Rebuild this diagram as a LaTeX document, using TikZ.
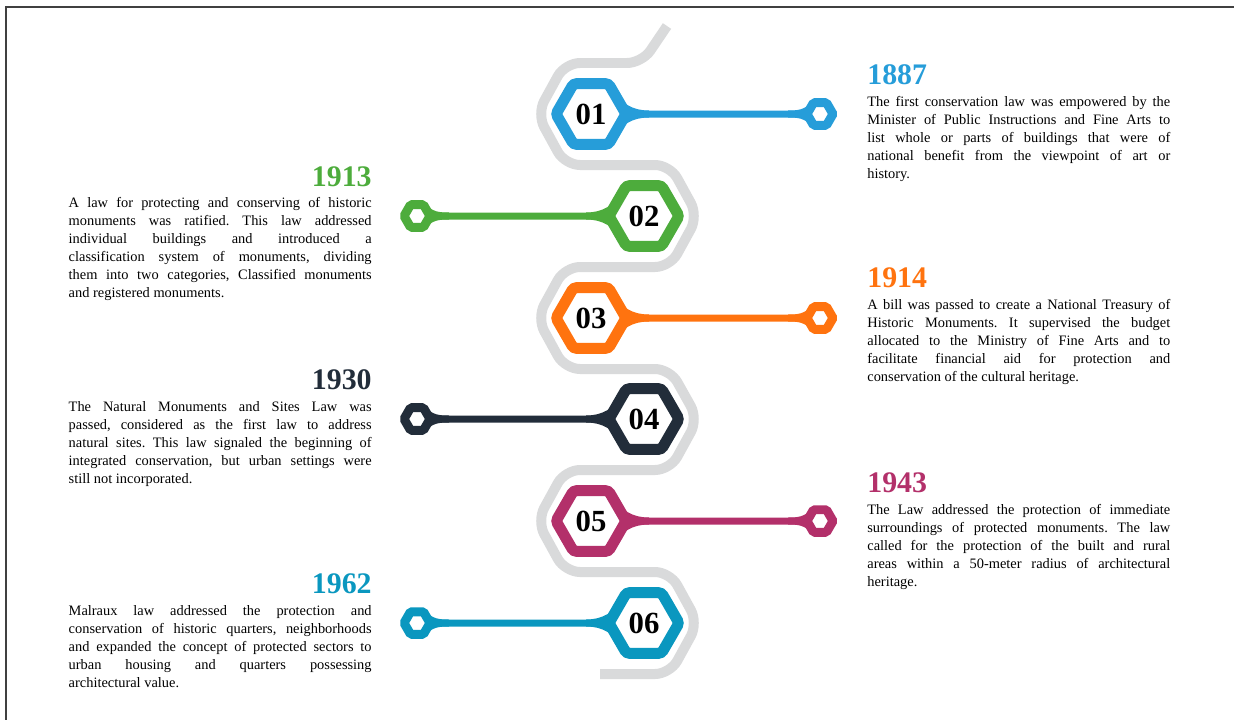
\documentclass[tikz,border=0pt]{standalone}
\usepackage{fontspec}
\setmainfont{Liberation Serif}
\usetikzlibrary{shapes.geometric, positioning, backgrounds}

\definecolor{lawblue}{HTML}{269DD9}
\definecolor{lawgreen}{HTML}{4DAC3C}
\definecolor{laworange}{HTML}{FF730F}
\definecolor{lawnavy}{HTML}{222D3A}
\definecolor{lawmagenta}{HTML}{B3306A}
\definecolor{lawteal}{HTML}{0A97BF}
\definecolor{trackgray}{HTML}{D9DADB}

\begin{document}
\frenchspacing
\begin{tikzpicture}[
        x=0.02cm, y=-0.02cm,
        % Styles
        hexnode/.style={
            regular polygon,
            regular polygon sides=6,
            minimum size=1.4cm,
            line width=0.22cm,
            draw=#1,
            fill=white,
            rounded corners=0.06cm,
            inner sep=0pt,
            font=\fontsize{17.5}{17.5}\selectfont\bfseries
          },
        tipnode/.style={
            regular polygon,
            regular polygon sides=6,
            minimum size=0.52cm,
            line width=0.18cm,
            draw=#1,
            fill=white,
            rounded corners=0.03cm,
            inner sep=0pt
          },
        stem/.style={line width=0.14cm},
        track/.style={
            draw=trackgray,
            line width=0.2cm,
            rounded corners=0.3cm
          },
        year/.style={
            font=\fontsize{17}{17}\selectfont\bfseries,
            inner sep=0pt,
            text=#1
          },
        desc/.style={
            text width=6.06cm,
            align=justify,
            inner sep=0pt,
            font=\fontsize{8.2}{10.2}\selectfont
          },
        frame/.style={draw=black!75, line width=0.04cm},
        bigflare/.pic={
            \fill (20,-26) .. controls (30,-10) and (42,-3.5) .. (58,-3.5)
              -- (58,3.5) .. controls (42,3.5) and (30,10) .. (20,26) -- cycle;
          },
        tipflare/.pic={
            \fill (-8,-12) .. controls (-16,-4) and (-22,-3.5) .. (-32,-3.5)
              -- (-32,3.5) .. controls (-22,3.5) and (-16,4) .. (-8,12) -- cycle;
          }
      ]
      \useasboundingbox (0,0) rectangle (1234,720);

      % Frame
      \draw[frame] (1234,7) -- (6,7) -- (6,720);

      % Grey track
      \draw[track] (667,26) -- (642,63) -- (565,63) -- (537,114) -- (565,165)
        -- (670,165) -- (698,216) -- (670,267) -- (565,267) -- (537,318)
        -- (565,369) -- (670,369) -- (698,419) -- (670,470) -- (565,470)
        -- (537,521) -- (565,572) -- (670,572) -- (698,623) -- (670,674)
        -- (600,674);

      % Hexagons
      \node[hexnode=lawblue] (h1) at (591,114) {01};
      \node[hexnode=lawgreen] (h2) at (644,216) {02};
      \node[hexnode=laworange] (h3) at (591,318) {03};
      \node[hexnode=lawnavy] (h4) at (644,419) {04};
      \node[hexnode=lawmagenta] (h5) at (591,521) {05};
      \node[hexnode=lawteal] (h6) at (644,623) {06};

      % Tips
      \node[tipnode=lawblue] (t1) at (820,114) {};
      \node[tipnode=lawgreen] (t2) at (417,216) {};
      \node[tipnode=laworange] (t3) at (820,318) {};
      \node[tipnode=lawnavy] (t4) at (417,419) {};
      \node[tipnode=lawmagenta] (t5) at (820,521) {};
      \node[tipnode=lawteal] (t6) at (417,623) {};

      % Stems
      \begin{scope}[on background layer]
        \draw[stem, lawblue] (h1) -- (t1);
        \pic[lawblue] at (h1.center) {bigflare};
        \pic[lawblue] at (t1.center) {tipflare};
        \draw[stem, lawgreen] (h2) -- (t2);
        \pic[lawgreen, xscale=-1] at (h2.center) {bigflare};
        \pic[lawgreen, xscale=-1] at (t2.center) {tipflare};
        \draw[stem, laworange] (h3) -- (t3);
        \pic[laworange] at (h3.center) {bigflare};
        \pic[laworange] at (t3.center) {tipflare};
        \draw[stem, lawnavy] (h4) -- (t4);
        \pic[lawnavy, xscale=-1] at (h4.center) {bigflare};
        \pic[lawnavy, xscale=-1] at (t4.center) {tipflare};
        \draw[stem, lawmagenta] (h5) -- (t5);
        \pic[lawmagenta] at (h5.center) {bigflare};
        \pic[lawmagenta] at (t5.center) {tipflare};
        \draw[stem, lawteal] (h6) -- (t6);
        \pic[lawteal, xscale=-1] at (h6.center) {bigflare};
        \pic[lawteal, xscale=-1] at (t6.center) {tipflare};
      \end{scope}

      % Right column
      \node[year=lawblue, anchor=base west] (y1887) at (867,84) {1887};
      \node[desc, below=0.24cm of y1887.base west, anchor=north west] (d1887) {The first conservation law was empowered by the\linebreak Minister of Public Instructions and Fine Arts to\linebreak list whole or parts of buildings that were of\linebreak national benefit from the viewpoint of art or\linebreak history.};

      \node[year=laworange, anchor=base west] (y1914) at (867,287) {1914};
      \node[desc, below=0.24cm of y1914.base west, anchor=north west] (d1914) {A bill was passed to create a National Treasury of\linebreak Historic Monuments. It supervised the budget\linebreak allocated to the Ministry of Fine Arts and to\linebreak facilitate financial aid for protection and\linebreak conservation of the cultural heritage.};

      \node[year=lawmagenta, anchor=base west] (y1943) at (867,492) {1943};
      \node[desc, below=0.24cm of y1943.base west, anchor=north west] (d1943) {The Law addressed the protection of immediate\linebreak surroundings of protected monuments. The law\linebreak called for the protection of the built and rural\linebreak areas within a 50-meter radius of architectural\linebreak heritage.};

      % Left column
      \node[year=lawgreen, anchor=base east] (y1913) at (372,186) {1913};
      \node[desc, below=0.22cm of y1913.base east, anchor=north east] (d1913) {A law for protecting and conserving of historic\linebreak monuments was ratified. This law addressed\linebreak individual buildings and introduced a\linebreak classification system of monuments, dividing\linebreak them into two categories, Classified monuments\linebreak and registered monuments.};

      \node[year=lawnavy, anchor=base east] (y1930) at (372,389) {1930};
      \node[desc, below=0.24cm of y1930.base east, anchor=north east] (d1930) {The Natural Monuments and Sites Law was\linebreak passed, considered as the first law to address\linebreak natural sites. This law signaled the beginning of\linebreak integrated conservation, but urban settings were\linebreak still not incorporated.};

      \node[year=lawteal, anchor=base east] (y1962) at (372,593) {1962};
      \node[desc, below=0.24cm of y1962.base east, anchor=north east] (d1962) {Malraux law addressed the protection and\linebreak conservation of historic quarters, neighborhoods\linebreak and expanded the concept of protected sectors to\linebreak urban housing and quarters possessing\linebreak architectural value.};

    \end{tikzpicture}
\end{document}
